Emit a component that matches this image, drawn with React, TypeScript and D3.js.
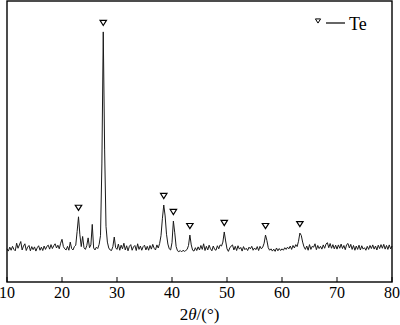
import React, { useEffect, useRef } from 'react';
import * as d3 from 'd3';

// XRD scan, 2θ from 10° to 80° sampled every 0.25°
const twoThetaStart = 10;
const twoThetaStep = 0.25;
const intensity: number[] = [
  // 10.00 – 14.75
  118, 110, 124, 113, 127, 116, 111, 138, 120, 132, 144, 114, 128, 136, 112, 124, 130, 111, 126, 115,
  // 15.00 – 19.75
  125, 110, 122, 129, 113, 124, 112, 128, 116, 127, 131, 117, 133, 119, 129, 136, 121, 131, 118, 138,
  // 20.00 – 24.75
  152, 126, 118, 114, 127, 113, 142, 119, 114, 126, 131, 180, 232, 168, 126, 162, 122, 116, 129, 157,
  // 25.00 – 29.75
  122, 132, 205, 121, 114, 124, 119, 134, 165, 420, 890, 470, 198, 142, 121, 114, 112, 126, 160, 122,
  // 30.00 – 34.75
  116, 135, 113, 131, 118, 138, 114, 129, 111, 127, 133, 113, 125, 130, 112, 136, 116, 128, 113, 126,
  // 35.00 – 39.75
  131, 114, 127, 113, 130, 117, 134, 120, 114, 132, 121, 137, 165, 225, 274, 235, 170, 135, 118, 114,
  // 40.00 – 44.75
  140, 217, 175, 126, 111, 108, 112, 107, 113, 109, 112, 116, 130, 167, 132, 113, 110, 122, 112, 125,
  // 45.00 – 49.75
  114, 130, 116, 136, 112, 127, 114, 131, 118, 111, 128, 116, 113, 129, 118, 132, 128, 142, 178, 146,
  // 50.00 – 54.75
  118, 109, 121, 128, 132, 114, 127, 112, 129, 117, 123, 110, 126, 115, 120, 112, 124, 118, 127, 113,
  // 55.00 – 59.75
  121, 115, 126, 112, 127, 118, 124, 138, 167, 148, 122, 113, 118, 110, 117, 109, 121, 111, 119, 112,
  // 60.00 – 64.75
  118, 113, 122, 116, 124, 118, 128, 116, 130, 121, 133, 126, 145, 174, 166, 142, 125, 116, 128, 113,
  // 65.00 – 69.75
  133, 116, 127, 124, 136, 115, 130, 119, 127, 117, 132, 120, 135, 140, 122, 137, 120, 133, 118, 131,
  // 70.00 – 74.75
  117, 132, 120, 135, 119, 130, 115, 133, 137, 121, 134, 116, 130, 113, 128, 116, 131, 114, 129, 117,
  // 75.00 – 79.75
  122, 113, 127, 116, 130, 119, 132, 117, 128, 114, 131, 119, 133, 120, 134, 117, 130, 116, 132, 118,
  // 80.00
  128
];

// Te reflections marked with ▽
const tePeaks = [23.0, 27.5, 38.5, 40.25, 43.25, 49.5, 57.0, 63.25];

const xTicks = [10, 20, 30, 40, 50, 60, 70, 80];
const legendLabel = 'Te';
const xAxisLabel = ['2', 'θ', '/(°)'];

const W = 400;
const H = 325;
const margin = { top: 1, right: 8, bottom: 43, left: 7 };
const serif = '"Liberation Serif", "Times New Roman", serif';

const XrdChart: React.FC = () => {
  const svgRef = useRef<SVGSVGElement>(null);

  useEffect(() => {
    if (!svgRef.current) return;
    const svg = d3.select(svgRef.current);
    svg.selectAll('*').remove();

    const x = d3.scaleLinear().domain([10, 80]).range([margin.left, W - margin.right]);
    const y = d3.scaleLinear().domain([0, 1000]).range([H - margin.bottom, margin.top]);

    const points = intensity.map((v, i) => [twoThetaStart + i * twoThetaStep, v] as [number, number]);

    // trace
    const line = d3.line<[number, number]>()
      .x(d => x(d[0]))
      .y(d => y(d[1]));

    svg.append('path')
      .datum(points)
      .attr('d', line)
      .attr('fill', 'none')
      .attr('stroke', '#1a1a1a')
      .attr('stroke-width', 1)
      .attr('stroke-linejoin', 'round');

    // frame
    svg.append('rect')
      .attr('x', x(10))
      .attr('y', y(1000))
      .attr('width', x(80) - x(10))
      .attr('height', y(0) - y(1000))
      .attr('fill', 'none')
      .attr('stroke', '#000')
      .attr('stroke-width', 1.4);

    // bottom axis, ticks pointing inward
    const axis = svg.append('g').attr('transform', `translate(0,${y(0)})`);
    axis.selectAll('line.tick')
      .data(xTicks)
      .join('line')
      .attr('class', 'tick')
      .attr('x1', d => x(d))
      .attr('x2', d => x(d))
      .attr('y1', 0)
      .attr('y2', -5)
      .attr('stroke', '#000')
      .attr('stroke-width', 1);

    axis.selectAll('text')
      .data(xTicks)
      .join('text')
      .attr('x', d => x(d))
      .attr('y', 16)
      .attr('text-anchor', 'middle')
      .attr('font-family', serif)
      .attr('font-size', 16)
      .attr('fill', '#000')
      .text(d => d);

    const title = svg.append('text')
      .attr('x', (x(10) + x(80)) / 2)
      .attr('y', 320)
      .attr('text-anchor', 'middle')
      .attr('font-family', serif)
      .attr('font-size', 17)
      .attr('fill', '#000');
    title.append('tspan').text(xAxisLabel[0]);
    title.append('tspan').attr('font-style', 'italic').text(xAxisLabel[1]);
    title.append('tspan').text(xAxisLabel[2]);

    // peak markers
    const tri = (cx: number, cy: number, s: number) =>
      `M${cx - s},${cy - s * 0.8}L${cx + s},${cy - s * 0.8}L${cx},${cy + s * 0.8}Z`;

    const peakTop = (p: number) => {
      const near = points.filter(d => Math.abs(d[0] - p) <= 0.3);
      return d3.max(near, d => d[1]) ?? 0;
    };

    svg.append('g')
      .selectAll('path')
      .data(tePeaks)
      .join('path')
      .attr('d', p => tri(x(p), y(peakTop(p)) - 9, 3.2))
      .attr('fill', '#fff')
      .attr('stroke', '#000')
      .attr('stroke-width', 1.2);

    // legend
    const legend = svg.append('g').attr('transform', 'translate(318,22)');
    legend.append('path')
      .attr('d', tri(0, -1, 2.6))
      .attr('fill', '#fff')
      .attr('stroke', '#000')
      .attr('stroke-width', 1);
    legend.append('line')
      .attr('x1', 8)
      .attr('x2', 27)
      .attr('y1', 1)
      .attr('y2', 1)
      .attr('stroke', '#000')
      .attr('stroke-width', 1.2);
    legend.append('text')
      .attr('x', 31)
      .attr('y', 8)
      .attr('font-family', serif)
      .attr('font-size', 18)
      .attr('fill', '#000')
      .text(legendLabel);
  }, []);

  return (
    <svg
      ref={svgRef}
      width={W}
      height={H}
      style={{ position: 'absolute', left: 0, top: 0, background: '#fff', display: 'block' }}
    />
  );
};

export default function App() {
  return <XrdChart />;
}
